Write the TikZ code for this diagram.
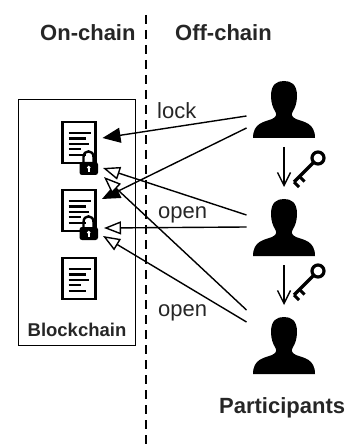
\documentclass[tikz,border=0pt]{standalone}
\usepackage{fontspec}
\setmainfont{Liberation Sans}
\usetikzlibrary{arrows.meta}
\definecolor{txt}{gray}{0.15}
\tikzset{
 lbl/.style={inner sep=0pt,text=txt,font=\fontsize{22bp}{24bp}\selectfont},
 head/.style={inner sep=0pt,text=txt,font=\fontsize{22bp}{24bp}\selectfont\bfseries},
 solidarrow/.style={line width=1.4bp,-{Triangle[fill=black,length=18bp,width=15bp]}},
 openarrow/.style={line width=1.4bp,-{Triangle[open,fill=white,length=17bp,width=13bp,line width=1.4bp]}},
 keyarrow/.style={line width=1.4bp,-{Straight Barb[length=13bp,width=13bp,line width=1.4bp]}},
 pics/person/.style={code={
   \fill[black] (0,0) .. controls (-7,0) and (-13,3) .. (-13,15)
     .. controls (-13,22) and (-11,27) .. (-8.5,31)
     .. controls (-7,34) and (-8,36) .. (-12,38)
     .. controls (-20,41) and (-31,42) .. (-31,57) -- (31,57)
     .. controls (31,42) and (20,41) .. (12,38)
     .. controls (8,36) and (7,34) .. (8.5,31)
     .. controls (11,27) and (13,22) .. (13,15)
     .. controls (13,3) and (7,0) .. (0,0) -- cycle;
 }},
 pics/document/.style={code={
   \draw[line width=2.6bp] (0,0) rectangle (33,41);
   \foreach \y/\w in {11/22,16.5/17,22/20,27/12,33/17}
     \draw[line width=2.4bp] (6,\y) -- ++(\w,0);
 }},
 pics/padlock/.style={code={
   \draw[line width=2.4bp] (3.5,6) .. controls (3.5,-1.5) and (13.5,-1.5) .. (13.5,6) -- (13.5,13) (3.5,6) -- (3.5,13);
   \fill[black,rounded corners=2.5bp] (-0.5,11) rectangle (18,24);
   \fill[white] (8.7,16.5) circle (1.9);
   \fill[white] (7.8,16.5) rectangle (9.6,21);
 }},
 pics/keyicon/.style={code={
   \draw[line width=3.5bp] (-4.5,4.5) -- (-24,24);
   \draw[line width=3.2bp] (0,0) circle (6);
   \draw[line width=3bp] (-18.5,18.5) -- ++(5,5);
   \draw[line width=3bp] (-24,24) -- ++(5,5);
 }},
}
\begin{document}
\begin{tikzpicture}[x=1bp,y=-1bp,line cap=butt]
\useasboundingbox (0,0) rectangle (351,446);
\draw[line width=1.3bp,dash pattern=on 9bp off 6bp] (146,15) coordinate (dashtop) -- (146,446) coordinate (dashend);
\node[head,anchor=base west] (onchain) at (40,41) {On-chain};
\node[head,anchor=base west] (offchain) at (175,41) {Off-chain};
\node[draw,line width=1.3bp,minimum width=117bp,minimum height=246bp,anchor=north west,inner sep=0pt] (chain) at (18,99) {};
\node[inner sep=0pt,anchor=base,text=txt,font=\fontsize{18.5bp}{20bp}\selectfont\bfseries] (bclabel) at (77,336) {Blockchain};
\pic at (62.5,122) {document};
\pic at (62.5,190) {document};
\pic at (62.5,258) {document};
\pic at (80,151) {padlock};
\pic at (80,216) {padlock};
\pic at (284,81) {person};
\pic at (284,199) {person};
\pic at (284,317) {person};
\pic at (318,158) {keyicon};
\pic at (318,271) {keyicon};
\node[head,anchor=base west] (part) at (219,413) {Participants};
\coordinate (l1) at (102.5,138);
\coordinate (l2) at (102,199);
\coordinate (o1) at (103,168);
\coordinate (o2) at (104,228);
\coordinate (o3) at (104,177);
\coordinate (o4) at (103,236);
\coordinate (p1a) at (246.5,116);
\coordinate (p1b) at (246.5,128);
\coordinate (p2a) at (246.5,215);
\coordinate (p2b) at (246.5,227);
\coordinate (p3a) at (246.5,310);
\coordinate (p3b) at (246.5,322);
\draw[solidarrow] (p1a) -- (l1);
\draw[solidarrow] (p1b) -- (l2);
\draw[openarrow] (p2a) -- (o1);
\draw[openarrow] (p2b) -- (o2);
\draw[openarrow] (p3a) -- (o3);
\draw[openarrow] (p3b) -- (o4);
\coordinate (k1a) at (284,147); \coordinate (k1b) at (284,187);
\coordinate (k2a) at (284,265); \coordinate (k2b) at (284,305);
\draw[keyarrow] (k1a) -- (k1b);
\draw[keyarrow] (k2a) -- (k2b);
\node[lbl,anchor=base west] (lock) at (157,119) {lock};
\node[lbl,anchor=base west] (open1) at (158,219) {open};
\node[lbl,anchor=base west] (open2) at (158,316) {open};
\end{tikzpicture}
\end{document}
